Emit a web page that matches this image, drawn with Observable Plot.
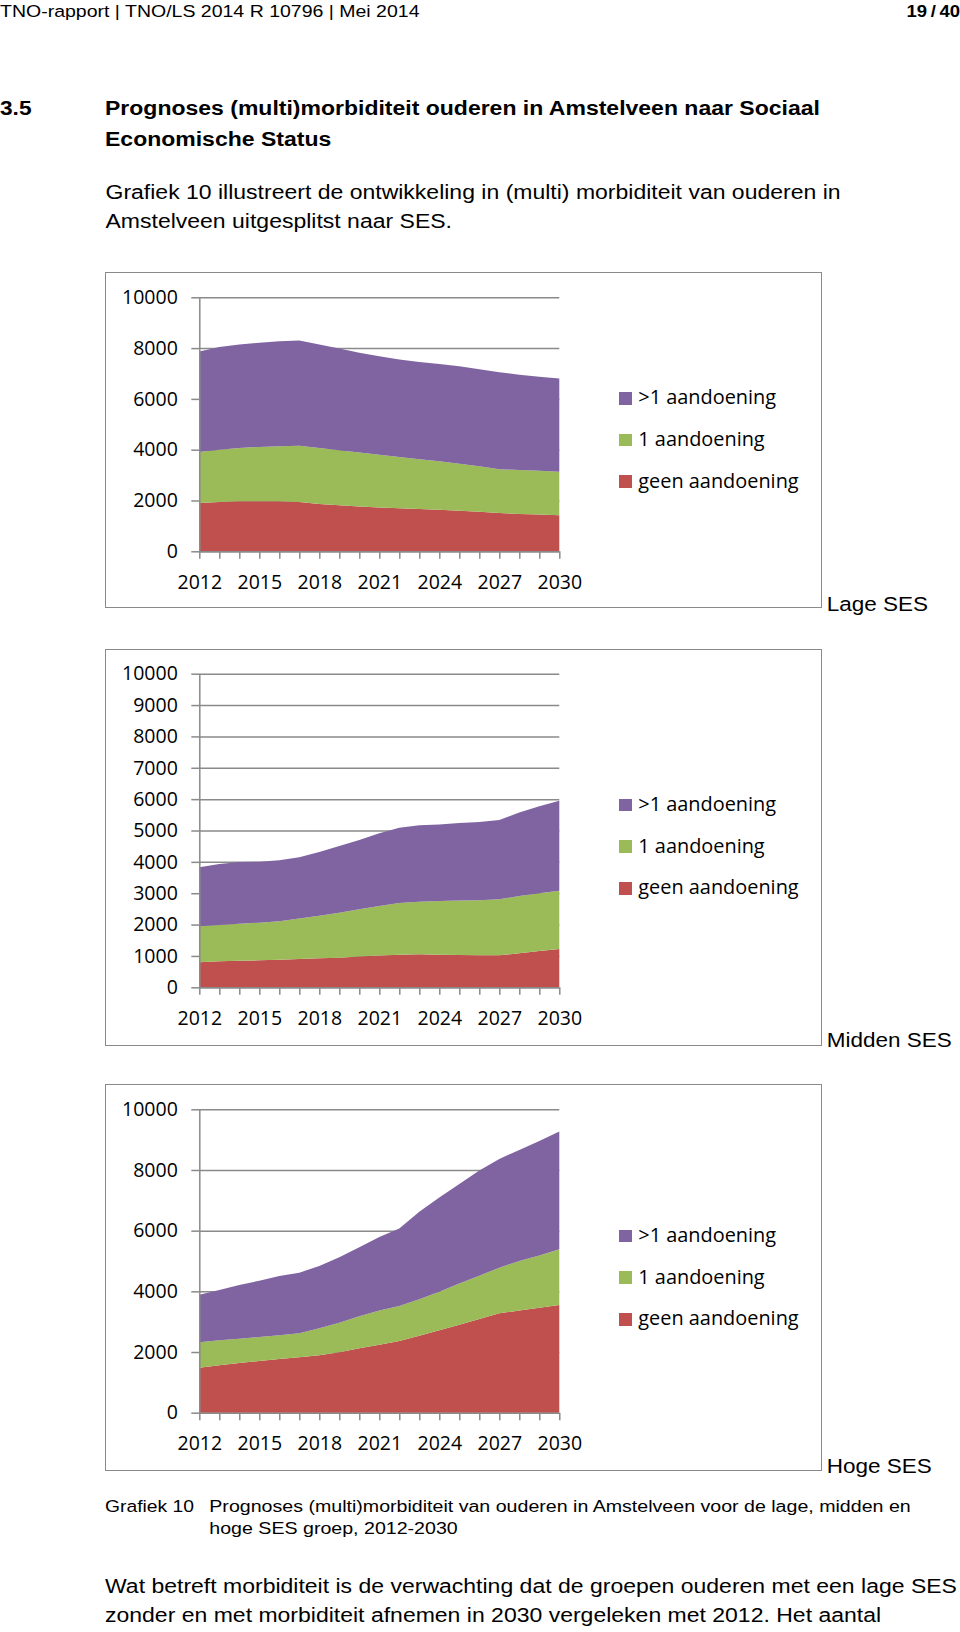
<!DOCTYPE html>
<html>
<head>
<meta charset="utf-8">
<script src="https://cdn.jsdelivr.net/npm/d3@7"></script>
<script src="https://cdn.jsdelivr.net/npm/@observablehq/plot@0.6"></script>
<style>
  html, body { margin: 0; padding: 0; background: #fff; }
  body { position: relative; width: 960px; height: 1632px; overflow: hidden; }
  .t { position: absolute; white-space: nowrap; font-family: "Liberation Sans", Arial, Helvetica, sans-serif; color: #000; }
  .box { position: absolute; border: 1.5px solid #8a8a8a; box-sizing: border-box; }
  .plotwrap { position: absolute; }
  .sw { position: absolute; width: 12.5px; height: 12.5px; }
  .lg { position: absolute; white-space: nowrap; font-family: "Open Sans", sans-serif; color: #000; }
</style>
</head>
<body>
<script>
// ---------- data ----------
const years = [2012, 2013, 2014, 2015, 2016, 2017, 2018, 2019, 2020, 2021, 2022, 2023, 2024, 2025, 2026, 2027, 2028, 2029, 2030];
const series = ["geen aandoening", "1 aandoening", ">1 aandoening"]; // stack order bottom -> top
const colors = ["#C0504D", "#9BBB59", "#8064A2"];

// Lage SES
const lageGeen = [1900, 1940, 1970, 1970, 1970, 1940, 1865, 1810, 1760, 1720, 1690, 1665, 1640, 1600, 1560, 1510, 1470, 1445, 1420];
const lageEen  = [2010, 2060, 2100, 2140, 2165, 2220, 2205, 2165, 2125, 2085, 2025, 1955, 1905, 1850, 1785, 1720, 1730, 1730, 1715];
const lageMeer = [3960, 4040, 4070, 4100, 4135, 4140, 4070, 4005, 3935, 3875, 3835, 3835, 3830, 3835, 3820, 3815, 3755, 3700, 3665];

// Midden SES
const middenGeen = [800, 830, 850, 860, 880, 905, 925, 945, 980, 1010, 1040, 1050, 1040, 1030, 1020, 1020, 1085, 1160, 1220];
const middenEen  = [1145, 1160, 1180, 1200, 1225, 1285, 1360, 1435, 1505, 1585, 1650, 1680, 1710, 1735, 1755, 1785, 1825, 1840, 1860];
const middenMeer = [1880, 1940, 1965, 1945, 1945, 1955, 2030, 2125, 2210, 2315, 2400, 2435, 2445, 2475, 2495, 2530, 2660, 2770, 2870];

// Hoge SES
const hogeGeen = [1485, 1560, 1635, 1705, 1770, 1825, 1890, 1990, 2120, 2240, 2365, 2540, 2715, 2900, 3090, 3275, 3365, 3460, 3550];
const hogeEen  = [835, 825, 805, 790, 780, 790, 890, 975, 1055, 1125, 1150, 1195, 1275, 1355, 1425, 1505, 1635, 1725, 1835];
const hogeMeer = [1570, 1660, 1770, 1855, 1955, 2000, 2055, 2155, 2275, 2425, 2560, 2890, 3100, 3285, 3465, 3585, 3660, 3770, 3880];

const yTicks2000 = [0, 2000, 4000, 6000, 8000, 10000];
const yTicks1000 = [0, 1000, 2000, 3000, 4000, 5000, 6000, 7000, 8000, 9000, 10000];
const xLabelYears = [2012, 2015, 2018, 2021, 2024, 2027, 2030];
const sesLabels = ["Lage SES", "Midden SES", "Hoge SES"];

// ---------- helpers ----------
const GRAY = "#8a8a8a";
function txt(str, x, base, fs, opt = {}) {
  const d = document.createElement("div");
  d.className = "t";
  d.textContent = str;
  const sy = opt.sy ?? 0.87;
  const off = 0.8465 * fs;
  d.style.fontSize = fs + "px";
  d.style.lineHeight = fs + "px";
  d.style.top = (base - off) + "px";
  if (opt.right != null) { d.style.right = opt.right + "px"; d.style.transformOrigin = `100% ${off}px`; }
  else { d.style.left = x + "px"; d.style.transformOrigin = `0 ${off}px`; }
  d.style.transform = `scaleY(${sy})`;
  if (opt.bold) d.style.fontWeight = "bold";
  if (opt.wordSpacing != null) d.style.wordSpacing = opt.wordSpacing + "px";
  document.body.appendChild(d);
  return d;
}

function chart(geen, een, meer, yTicks, marginTop, plotH) {
  const vals = [geen, een, meer];
  const data = years.flatMap((yr, i) => series.map((s, k) => ({year: yr, cat: s, value: vals[k][i]})));
  return Plot.plot({
    width: 480,
    height: marginTop + plotH + 45,
    marginLeft: 94.3,
    marginRight: 25.7,
    marginTop,
    marginBottom: 45,
    style: {fontFamily: "'Open Sans', sans-serif", fontSize: "19.5px", color: "#000", background: "transparent", overflow: "visible"},
    x: {domain: [2012, 2030], label: null},
    y: {domain: [0, 10000], label: null},
    color: {domain: series, range: colors},
    marks: [
      Plot.gridY(yTicks, {stroke: GRAY, strokeOpacity: 1, strokeWidth: 1.5}),
      Plot.areaY(data, {x: "year", y: "value", fill: "cat", order: series}),
      Plot.ruleY([0], {stroke: GRAY, strokeWidth: 1.5}),
      Plot.ruleX([2012], {stroke: GRAY, strokeWidth: 1.5}),
      Plot.axisY(yTicks, {tickSize: 8, tickPadding: 14, stroke: GRAY, strokeWidth: 1.5, fill: "#000", tickFormat: d => String(d), label: null}),
      Plot.axisX(years, {tickSize: 7.5, tickPadding: 15.4, stroke: GRAY, strokeWidth: 1.5, fill: "#000",
        tickFormat: d => xLabelYears.includes(d) ? String(d) : "", label: null})
    ]
  });
}

function placeChart(cfg) {
  const box = document.createElement("div");
  box.className = "box";
  box.style.left = "104.7px"; box.style.top = cfg.boxTop + "px";
  box.style.width = (822.3 - 104.7) + "px"; box.style.height = (cfg.boxBottom - cfg.boxTop) + "px";
  document.body.appendChild(box);

  const wrap = document.createElement("div");
  wrap.className = "plotwrap";
  wrap.style.left = "105px"; wrap.style.top = cfg.boxTop + "px";
  wrap.appendChild(chart(cfg.geen, cfg.een, cfg.meer, cfg.yTicks, cfg.marginTop, cfg.plotH));
  document.body.appendChild(wrap);

  // legend (top -> bottom: >1, 1, geen)
  const order = [2, 1, 0];
  order.forEach((k, r) => {
    const cy = cfg.legendCenter + (r - 1) * 41.7;
    const sw = document.createElement("div");
    sw.className = "sw";
    sw.style.left = "619.3px"; sw.style.top = (cy - 6.25) + "px";
    sw.style.background = colors[k];
    document.body.appendChild(sw);
    const fs = 19.9;
    const lg = document.createElement("div");
    lg.className = "lg";
    lg.textContent = series[k];
    lg.style.fontSize = fs + "px";
    lg.style.lineHeight = fs + "px";
    lg.style.left = "638.3px";
    lg.style.top = (cy + 6.7 - 0.888 * fs) + "px";
    document.body.appendChild(lg);
  });

  txt(cfg.label, 826.7, cfg.labelBase, 22.5, {sy: 0.93});
}

// ---------- page text ----------
txt("TNO-rapport | TNO/LS 2014 R 10796 | Mei 2014", 0, 17.3, 19.5);
txt("19 / 40", 0, 17.3, 18.5, {right: 0, bold: true, wordSpacing: -1.5});

txt("3.5", 0, 115, 22.7, {bold: true});
txt("Prognoses (multi)morbiditeit ouderen in Amstelveen naar Sociaal", 105, 115, 23, {bold: true});
txt("Economische Status", 105, 146, 23, {bold: true});

txt("Grafiek 10 illustreert de ontwikkeling in (multi) morbiditeit van ouderen in", 105.5, 199, 23);
txt("Amstelveen uitgesplitst naar SES.", 105.5, 228.3, 23);

// ---------- charts ----------
placeChart({geen: lageGeen, een: lageEen, meer: lageMeer, yTicks: yTicks2000,
  boxTop: 271.7, boxBottom: 608.3, marginTop: 25.3, plotH: 254, legendCenter: 440, label: sesLabels[0], labelBase: 612});
placeChart({geen: middenGeen, een: middenEen, meer: middenMeer, yTicks: yTicks1000,
  boxTop: 649, boxBottom: 1045.7, marginTop: 24.7, plotH: 313.6, legendCenter: 846.7, label: sesLabels[1], labelBase: 1048.3});
placeChart({geen: hogeGeen, een: hogeEen, meer: hogeMeer, yTicks: yTicks2000,
  boxTop: 1084, boxBottom: 1471, marginTop: 25.3, plotH: 303.4, legendCenter: 1277.7, label: sesLabels[2], labelBase: 1474});

// ---------- caption & following text ----------
txt("Grafiek 10", 105, 1512.3, 19.3);
txt("Prognoses (multi)morbiditeit van ouderen in Amstelveen voor de lage, midden en", 209.3, 1512.3, 19.6);
txt("hoge SES groep, 2012-2030", 209.3, 1535, 19.6);

txt("Wat betreft morbiditeit is de verwachting dat de groepen ouderen met een lage SES", 105, 1593.3, 23);
txt("zonder en met morbiditeit afnemen in 2030 vergeleken met 2012. Het aantal", 105, 1622.7, 23);
</script>
</body>
</html>
